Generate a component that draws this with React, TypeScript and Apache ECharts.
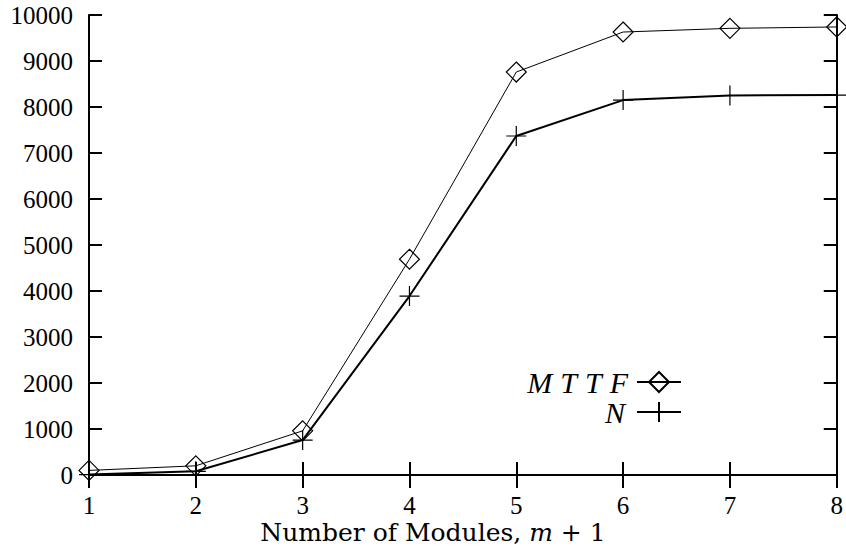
import React, { useEffect, useRef } from "react";
import * as echarts from "echarts";

const modules = [1, 2, 3, 4, 5, 6, 7, 8];
const mttfValues = [100, 200, 960, 4690, 8760, 9630, 9710, 9740];
const nValues = [10, 80, 760, 3890, 7370, 8150, 8250, 8260];
const yTicks = { min: 0, max: 10000, interval: 1000 };
const xTicks = { min: 1, max: 8, interval: 1 };

const FONT = "Liberation Serif";
const NAME_FONT = "DejaVu Serif";
const FS = 25;
const PLUS = "path://M10,0 L10,20 M0,10 L20,10";

export default function App() {
  const ref = useRef<HTMLDivElement>(null);
  useEffect(() => {
    if (!ref.current) return;
    const chart = echarts.init(ref.current, undefined, { renderer: "svg" });
    const axisLine = { show: true, lineStyle: { color: "#000", width: 2 } };
    const tick = { show: true, inside: true, length: 13, lineStyle: { color: "#000", width: 2 } };
    const label = { color: "#000", fontFamily: FONT, fontSize: FS, formatter: (v: number) => String(v) };
    const letter = { fontFamily: FONT, fontSize: 30, fontStyle: "italic", color: "#000", padding: [0, 4, 0, 4] };
    chart.setOption({
      animation: false,
      backgroundColor: "#fff",
      grid: { left: 89, right: 7, top: 15, bottom: 75, containLabel: false },
      xAxis: [
        {
          type: "value",
          ...xTicks,
          position: "bottom",
          axisLine,
          axisTick: tick,
          axisLabel: { ...label, margin: 18 },
          splitLine: { show: false },
        },
        {
          type: "value",
          ...xTicks,
          position: "top",
          axisLine,
          axisTick: tick,
          axisLabel: { show: false },
          splitLine: { show: false },
        },
      ],
      yAxis: [
        {
          type: "value",
          ...yTicks,
          position: "left",
          axisLine,
          axisTick: tick,
          axisLabel: { ...label, margin: 16 },
          splitLine: { show: false },
        },
        {
          type: "value",
          ...yTicks,
          position: "right",
          axisLine,
          axisTick: tick,
          axisLabel: { show: false },
          splitLine: { show: false },
        },
      ],
      legend: [
        {
          data: ["MTTF"],
          right: 159,
          top: 362,
          align: "right",
          itemWidth: 44,
          itemHeight: 25,
          itemGap: 8,
          formatter: () => "{a|M}{a|T}{a|T}{a|F}",
          textStyle: { rich: { a: letter } },
        },
        {
          data: ["N"],
          right: 159,
          top: 392,
          align: "right",
          itemWidth: 44,
          itemHeight: 25,
          formatter: () => "{a|N}",
          textStyle: { rich: { a: { ...letter, padding: [0, 7, 0, 0] } } },
        },
      ],
      graphic: [
        {
          type: "text",
          x: 433,
          y: 532,
          style: {
            text: "Number of Modules, {i|m} + 1",
            fontFamily: NAME_FONT,
            fontSize: 25,
            fill: "#000",
            align: "center",
            verticalAlign: "middle",
            rich: { i: { fontFamily: NAME_FONT, fontSize: 25, fontStyle: "italic", fill: "#000" } },
          },
        },
      ],
      series: [
        {
          name: "MTTF",
          type: "line",
          data: modules.map((m, i) => [m, mttfValues[i]]),
          symbol: "diamond",
          symbolSize: 20,
          clip: false,
          color: "#000",
          lineStyle: { color: "#000", width: 1 },
          itemStyle: { color: "rgba(0,0,0,0)", borderColor: "#000", borderWidth: 1.2 },
        },
        {
          name: "N",
          type: "line",
          data: modules.map((m, i) => [m, nValues[i]]),
          symbol: PLUS,
          symbolSize: 20,
          clip: false,
          color: "#000",
          lineStyle: { color: "#000", width: 2 },
          itemStyle: { color: "rgba(0,0,0,0)", borderColor: "#000", borderWidth: 1.2 },
        },
      ],
    });
    return () => chart.dispose();
  }, []);
  return <div ref={ref} style={{ width: 846, height: 550, position: "absolute", left: 0, top: 0 }} />;
}
